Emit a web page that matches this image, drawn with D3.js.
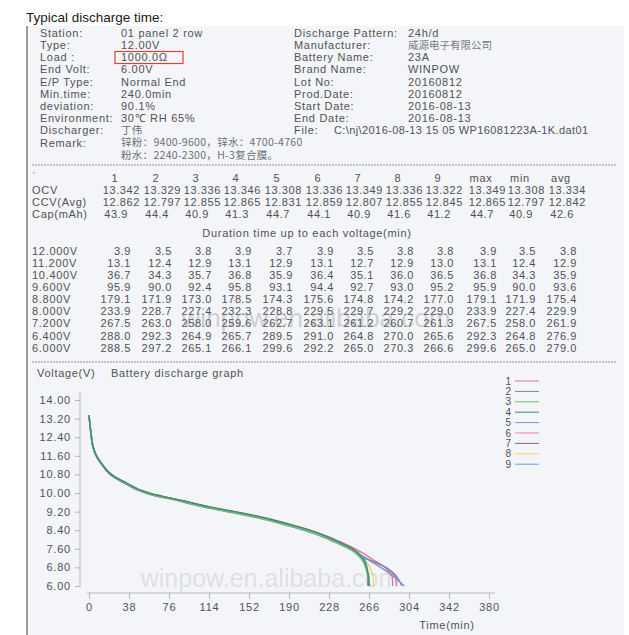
<!DOCTYPE html>
<html>
<head>
<meta charset="utf-8">
<script src="https://cdn.jsdelivr.net/npm/d3@7"></script>
<style>
  body { margin: 0; background: #fff; }
  svg { display: block; font-family: "Liberation Sans", Arial, sans-serif; }
  .cjk { font-family: "Noto Sans CJK SC", sans-serif; }
</style>
</head>
<body>
<svg id="chart" width="629" height="635"></svg>
<script>
// header info
var leftLabels = ["Station:", "Type:", "Load   :", "End Volt:", "E/P Type:", "Min.time:", "deviation:", "Environment:", "Discharger:", "Remark:"];
var leftValues = ["01 panel 2 row", "12.00V", "1000.0Ω", "6.00V", "Normal End", "240.0min", "90.1%", "30℃  RH 65%", "丁伟", "锌粉：9400-9600，锌水：4700-4760"];
var remark2 = "粉水：2240-2300，H-3复合膜。";
var rightLabels = ["Discharge Pattern:", "Manufacturer:", "Battery Name:", "Brand Name:", "Lot No:", "Prod.Date:", "Start Date:", "End Date:"];
var rightValues = ["24h/d", "威源电子有限公司", "23A", "WINPOW", "20160812", "20160812", "2016-08-13", "2016-08-13"];
var fileName = "C:\\nj\\2016-08-13 15 05 WP16081223A-1K.dat01";

// table
var cells = ["1", "2", "3", "4", "5", "6", "7", "8", "9"];
var statNames = ["max", "min", "avg"];
var ocv = [13.342, 13.329, 13.336, 13.346, 13.308, 13.336, 13.349, 13.336, 13.322];
var ocvStats = [13.349, 13.308, 13.334];
var ccv = [12.862, 12.797, 12.855, 12.865, 12.831, 12.859, 12.807, 12.855, 12.845];
var ccvStats = [12.865, 12.797, 12.842];
var cap = [43.9, 44.4, 40.9, 41.3, 44.7, 44.1, 40.9, 41.6, 41.2];
var capStats = [44.7, 40.9, 42.6];

var voltLevels = [12.0, 11.2, 10.4, 9.6, 8.8, 8.0, 7.2, 6.4, 6.0];
var durations = [
  [3.9, 3.5, 3.8, 3.9, 3.7, 3.9, 3.5, 3.8, 3.8],
  [13.1, 12.4, 12.9, 13.1, 12.9, 13.1, 12.7, 12.9, 13.0],
  [36.7, 34.3, 35.7, 36.8, 35.9, 36.4, 35.1, 36.0, 36.5],
  [95.9, 90.0, 92.4, 95.8, 93.1, 94.4, 92.7, 93.0, 95.2],
  [179.1, 171.9, 173.0, 178.5, 174.3, 175.6, 174.8, 174.2, 177.0],
  [233.9, 228.7, 227.4, 232.3, 228.8, 229.5, 229.7, 229.2, 229.0],
  [267.5, 263.0, 258.0, 259.6, 262.7, 263.1, 261.2, 260.7, 261.3],
  [288.0, 292.3, 264.9, 265.7, 289.5, 291.0, 264.8, 270.0, 265.6],
  [288.5, 297.2, 265.1, 266.1, 299.6, 292.2, 265.0, 270.3, 266.6]
];
var durStats = [
  [3.9, 3.5, 3.8], [13.1, 12.4, 12.9], [36.8, 34.3, 35.9], [95.9, 90.0, 93.6],
  [179.1, 171.9, 175.4], [233.9, 227.4, 229.9], [267.5, 258.0, 261.9],
  [292.3, 264.8, 276.9], [299.6, 265.0, 279.0]
];

// graph
var yTicks = [6.0, 6.8, 7.6, 8.4, 9.2, 10.0, 10.8, 11.6, 12.4, 13.2, 14.0];
var xTicks = [0, 38, 76, 114, 152, 190, 228, 266, 304, 342, 380];
var colors = ["#e8707e", "#7a84a4", "#6cc46c", "#3f8a6c", "#7890e0", "#f07cb0", "#7a6aa8", "#f0dc5a", "#62a2e0"];
var drawOrder = [0, 5, 1, 4, 7, 6, 8, 2, 3];

var svg = d3.select("#chart");
var ink = "#505257";
var colRight = [140, 181, 221, 261, 302, 343, 383, 423, 463, 506, 545, 586];

function txt(x, y, s, opt) {
  opt = opt || {};
  return svg.append("text")
    .attr("x", x).attr("y", y).attr("dy", "0.35em")
    .attr("font-size", opt.size || 11)
    .attr("letter-spacing", opt.ls == null ? 0.7 : opt.ls)
    .attr("fill", opt.fill || ink)
    .attr("text-anchor", opt.anchor || "start")
    .attr("class", opt.cls || null)
    .text(s);
}
function isCjk(s) { return /[\u4e00-\u9fff]/.test(s); }

// paper
svg.append("rect").attr("x", 26).attr("y", 26).attr("width", 598).attr("height", 609).attr("fill", "#f4f5f8");
svg.append("line").attr("x1", 27).attr("x2", 27).attr("y1", 26).attr("y2", 635).attr("stroke", "#9a9ca0").attr("stroke-width", 2);

txt(26, 17, "Typical discharge time:", { size: 13.5, ls: 0, fill: "#1a1a1a" });

// header block
var rowY = function(i) { return 33 + i * 12.2; };
leftLabels.forEach(function(l, i) { txt(40, rowY(i), l); });
leftValues.forEach(function(v, i) {
  if (isCjk(v)) txt(121, rowY(i), v, { size: 10.5, ls: 0.3, cls: "cjk", fill: "#6c6f76" });
  else txt(121, rowY(i), v);
});
txt(121, rowY(10), remark2, { size: 10.5, ls: 0.3, cls: "cjk", fill: "#6c6f76" });
svg.append("rect").attr("x", 115).attr("y", 51.5).attr("width", 68).attr("height", 12)
  .attr("fill", "none").attr("stroke", "#e0403c").attr("stroke-width", 1.2);

rightLabels.forEach(function(l, i) { txt(294, rowY(i), l); });
rightValues.forEach(function(v, i) {
  if (isCjk(v)) txt(408, rowY(i), v, { size: 10.5, ls: 0, cls: "cjk", fill: "#777a81" });
  else txt(408, rowY(i), v);
});
txt(294, rowY(8), "File:");
txt(334, rowY(8), fileName, { ls: 0.4 });

function dashed(y) {
  svg.append("line").attr("x1", 32).attr("x2", 616).attr("y1", y).attr("y2", y)
    .attr("stroke", "#8d9096").attr("stroke-width", 1).attr("stroke-dasharray", "2,1");
}
dashed(165);
dashed(362);

// table
txt(33, 174, "'", { size: 8 });
cells.concat(statNames).forEach(function(c, j) { txt(colRight[j] - 25, 178, c, { anchor: "middle" }); });
function row(y, label, vals, stats, fmt, shift) {
  txt(32, y, label);
  vals.concat(stats).forEach(function(v, j) {
    txt(colRight[j] - shift, y, fmt(v), { anchor: "end", ls: 0.6 });
  });
}
row(190, "OCV", ocv, ocvStats, d3.format(".3f"), 0);
row(202, "CCV(Avg)", ccv, ccvStats, d3.format(".3f"), 0);
row(214, "Cap(mAh)", cap, capStats, d3.format(".1f"), 12);
txt(307, 233, "Duration time up to each voltage(min)", { anchor: "middle" });
voltLevels.forEach(function(v, i) {
  row(251 + i * 12.1, d3.format(".3f")(v) + "V", durations[i], durStats[i], d3.format(".1f"), 9);
});

// graph
var x = d3.scaleLinear().domain([0, 380]).range([89, 489]);
var y = d3.scaleLinear().domain([6, 14]).range([586, 400]);

txt(37, 373, "Voltage(V)");
txt(111, 373, "Battery discharge graph");
txt(447, 625, "Time(min)", { anchor: "middle" });

var gy = svg.append("g").attr("transform", "translate(80,0)")
  .call(d3.axisLeft(y).tickValues(yTicks).tickFormat(d3.format(".2f")).tickSize(5).tickSizeOuter(0).tickPadding(4));
var gx = svg.append("g").attr("transform", "translate(0,593)")
  .call(d3.axisBottom(x).tickValues(xTicks).tickSize(6).tickSizeOuter(0).tickPadding(4));
[gy, gx].forEach(function(g) {
  g.select(".domain").remove();
  g.selectAll(".tick line").attr("stroke", "#b4b6bb");
  g.selectAll(".tick text").attr("fill", ink).attr("font-size", 11).attr("letter-spacing", 0.8)
    .attr("font-family", "Liberation Sans, Arial, sans-serif");
});
svg.append("line").attr("x1", 80).attr("x2", 80).attr("y1", 392).attr("y2", 587).attr("stroke", "#b4b6bb");
svg.append("line").attr("x1", 87).attr("x2", 495).attr("y1", 593).attr("y2", 593).attr("stroke", "#b4b6bb");

var line = d3.line().x(function(d) { return x(d[0]); }).y(function(d) { return y(d[1]); }).curve(d3.curveMonotoneX);
drawOrder.forEach(function(i) {
  var pts = [[0, ocv[i]]].concat(voltLevels.map(function(v, k) { return [durations[k][i], v]; }));
  svg.append("path").attr("d", line(pts)).attr("fill", "none")
    .attr("stroke", colors[i]).attr("stroke-width", 1.3);
});

// legend
cells.forEach(function(c, i) {
  var ly = 381 + i * 10.4;
  txt(511, ly, c, { size: 10, ls: 0, anchor: "end" });
  svg.append("line").attr("x1", 515).attr("x2", 539).attr("y1", ly).attr("y2", ly)
    .attr("stroke", colors[i]).attr("stroke-width", 1);
});

// watermarks
svg.append("text").attr("x", 316).attr("y", 318).attr("dy", "0.35em").attr("text-anchor", "middle")
  .attr("font-size", 26).attr("fill", "rgba(110,112,118,0.3)").text("winpow.en.alibaba.com");
svg.append("text").attr("x", 270).attr("y", 578).attr("dy", "0.35em").attr("text-anchor", "middle")
  .attr("font-size", 25).attr("fill", "rgba(110,112,118,0.18)").text("winpow.en.alibaba.com");
</script>
</body>
</html>
